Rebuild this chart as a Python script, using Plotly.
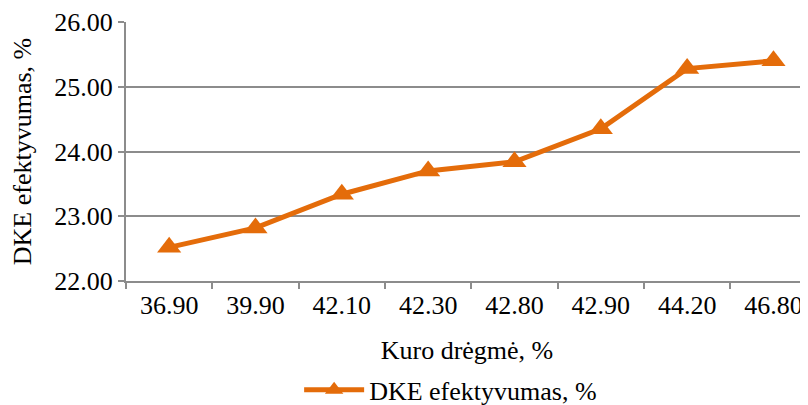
import plotly.graph_objects as go

# data
moisture = ["36.90", "39.90", "42.10", "42.30", "42.80", "42.90", "44.20", "46.80"]
efficiency = [22.52, 22.82, 23.34, 23.70, 23.84, 24.35, 25.28, 25.40]
y_ticks = [22, 23, 24, 25, 26]

orange = "#E46C0A"
grid = "#8C8C8C"
serif = "Liberation Serif"

trace = go.Scatter(
    x=moisture,
    y=efficiency,
    mode="lines+markers",
    name="DKE efektyvumas, %",
    line=dict(color=orange, width=5),
    marker=dict(symbol="triangle-up", size=21, color=orange),
)

fig = go.Figure(data=[trace])

# page body has an 8px margin, so the plot box is shifted up/left by 8
fig.update_layout(
    width=808,
    height=405,
    margin=dict(l=118, r=8, t=14, b=132, autoexpand=False),
    paper_bgcolor="white",
    plot_bgcolor="white",
    font=dict(family=serif, size=26, color="black"),
    showlegend=True,
    legend=dict(
        orientation="h",
        x=0.476, xanchor="center",
        y=-0.42, yanchor="middle",
        font=dict(family=serif, size=26),
        itemwidth=60,
        bgcolor="rgba(0,0,0,0)",
    ),
)

fig.update_xaxes(
    type="category",
    range=[-0.5, 7.4],
    showline=True, linecolor=grid, linewidth=2,
    ticks="outside", tickson="boundaries", ticklen=6, tickcolor=grid, tickwidth=2,
    showgrid=False,
    tickfont=dict(family=serif, size=26),
    title=dict(text="Kuro drėgmė, %", standoff=22, font=dict(family=serif, size=26)),
)

fig.update_yaxes(
    range=[22, 26],
    tickvals=y_ticks,
    tickformat=".2f",
    showline=True, linecolor=grid, linewidth=2,
    ticks="outside", ticklen=6, tickcolor=grid, tickwidth=2,
    showgrid=True, gridcolor=grid, gridwidth=2,
    zeroline=False,
    tickfont=dict(family=serif, size=26),
    title=dict(text="DKE efektyvumas, %", standoff=22, font=dict(family=serif, size=26)),
)

fig.write_html("out.html")
